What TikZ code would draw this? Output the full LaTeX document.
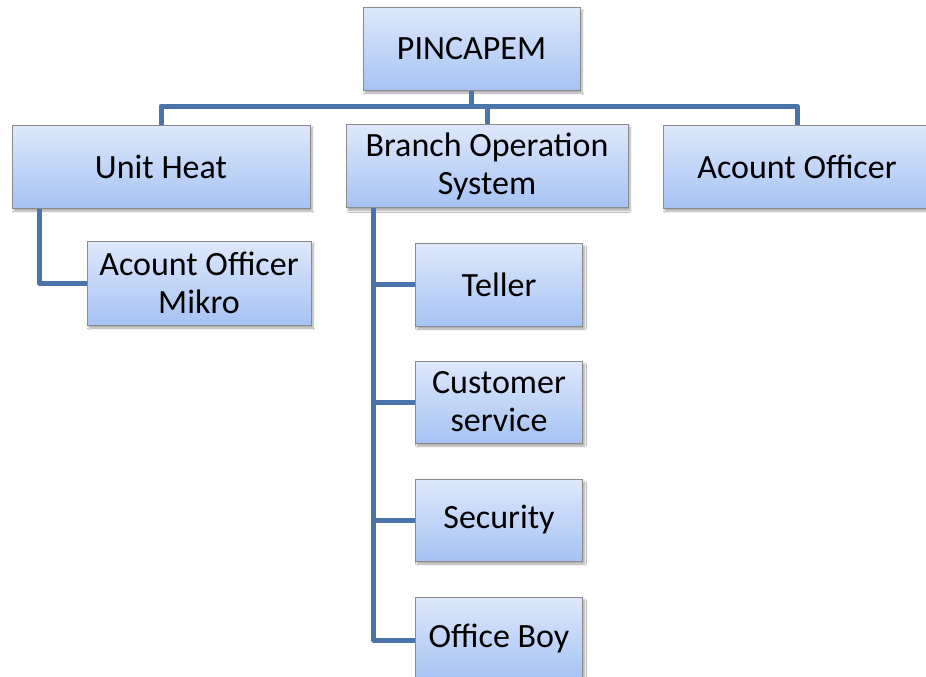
\documentclass[tikz,border=0pt]{standalone}
\usepackage{fontspec}
\setmainfont{Carlito}
\usetikzlibrary{shadows.blur}
\definecolor{boxtop}{HTML}{DEE8FB}
\definecolor{boxbot}{HTML}{A6C3F3}
\definecolor{boxline}{HTML}{8A8A8A}
\definecolor{connc}{HTML}{4A74AA}
\tikzset{
  orgbox/.style={rectangle, draw=boxline, line width=1pt, top color=boxtop, bottom color=boxbot,
    minimum width=#1, minimum height=83pt, inner sep=0pt, align=center,
    font=\fontsize{34}{38}\selectfont,
    blur shadow={shadow xshift=2pt, shadow yshift=-3pt, shadow blur steps=6, shadow opacity=35}},
  conn/.style={draw=connc, line width=5pt, line join=round, line cap=butt},
}
\begin{document}
\begin{tikzpicture}[x=1pt,y=-1pt]
\useasboundingbox (0,0) rectangle (926,677);
\fill[white] (0,0) rectangle (926,677);
% connectors first (behind boxes)
\node[orgbox=217pt, minimum height=82pt] (pin) at (471.5,49) {PINCAPEM};
\node[orgbox=298pt] (unit) at (161,166.5) {Unit Heat};
\node[orgbox=282pt] (bos) at (487,166) {Branch Operation\\System};
\node[orgbox=268pt] (ao) at (797,166.5) {Acount Officer};
\node[orgbox=224pt, minimum height=84pt] (aom) at (199,283) {Acount Officer\\Mikro};
\node[orgbox=167pt] (teller) at (499,284.5) {Teller};
\node[orgbox=167pt, minimum height=82pt] (cs) at (499,402) {Customer\\service};
\node[orgbox=167pt, minimum height=82pt] (sec) at (499,520) {Security};
\node[orgbox=167pt, minimum height=82pt] (boy) at (499,638) {Office Boy};
\begin{scope}[on background layer/.try]
\end{scope}
\coordinate (busy) at (0,106);
\draw[conn] (pin.south) -- (pin.south |- busy);
\draw[conn] (unit.north) -- (unit.north |- busy) -- (ao.north |- busy) -- (ao.north);
\draw[conn] (bos.north |- busy) -- (bos.north);
\coordinate (uv) at ([xshift=28pt]unit.south west);
\draw[conn] (uv) |- (aom.west);
\coordinate (bv) at ([xshift=28pt]bos.south west);
\draw[conn] (bv) |- ([yshift=-2pt]boy.west);
\draw[conn] (bv |- teller.west) -- (teller.west);
\draw[conn] (bv |- cs.west) -- (cs.west);
\draw[conn] (bv |- sec.west) -- (sec.west);
\end{tikzpicture}
\end{document}
